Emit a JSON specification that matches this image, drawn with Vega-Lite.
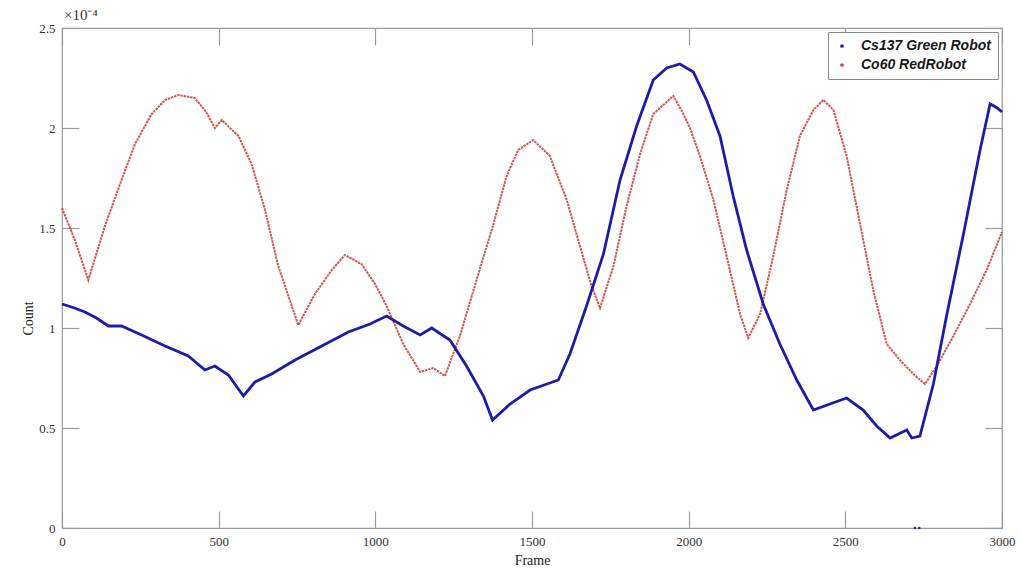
{
  "$schema": "https://vega.github.io/schema/vega-lite/v6.json",
  "width": 940,
  "height": 500,
  "autosize": {"type": "none"},
  "padding": {"left": 62, "top": 28, "right": 19, "bottom": 43},
  "background": "white",
  "config": {
    "view": {"stroke": "#9a9a9a", "strokeWidth": 1.2},
    "axis": {"grid": false, "domain": false, "labelFont": "Liberation Serif", "labelFontSize": 13, "labelColor": "#333", "titleFont": "Liberation Serif", "titleFontSize": 14, "titleFontWeight": "normal", "titleColor": "#222", "tickColor": "#9a9a9a", "tickWidth": 1.2}
  },
  "title": {"text": "×10⁻⁴", "anchor": "start", "frame": "group", "font": "Liberation Serif", "fontSize": 15, "fontWeight": "normal", "color": "#333", "offset": 2, "dx": 2, "dy": 3},
  "datasets": {
    "series": [
      {"frame": 0, "count": 1.12e-4, "source": "Cs137 Green Robot"},
      {"frame": 40, "count": 1.10e-4, "source": "Cs137 Green Robot"},
      {"frame": 73, "count": 1.08e-4, "source": "Cs137 Green Robot"},
      {"frame": 110, "count": 1.05e-4, "source": "Cs137 Green Robot"},
      {"frame": 148, "count": 1.01e-4, "source": "Cs137 Green Robot"},
      {"frame": 190, "count": 1.01e-4, "source": "Cs137 Green Robot"},
      {"frame": 254, "count": 0.965e-4, "source": "Cs137 Green Robot"},
      {"frame": 329, "count": 0.91e-4, "source": "Cs137 Green Robot"},
      {"frame": 403, "count": 0.86e-4, "source": "Cs137 Green Robot"},
      {"frame": 456, "count": 0.79e-4, "source": "Cs137 Green Robot"},
      {"frame": 488, "count": 0.81e-4, "source": "Cs137 Green Robot"},
      {"frame": 531, "count": 0.765e-4, "source": "Cs137 Green Robot"},
      {"frame": 579, "count": 0.66e-4, "source": "Cs137 Green Robot"},
      {"frame": 616, "count": 0.73e-4, "source": "Cs137 Green Robot"},
      {"frame": 669, "count": 0.77e-4, "source": "Cs137 Green Robot"},
      {"frame": 744, "count": 0.84e-4, "source": "Cs137 Green Robot"},
      {"frame": 829, "count": 0.91e-4, "source": "Cs137 Green Robot"},
      {"frame": 914, "count": 0.98e-4, "source": "Cs137 Green Robot"},
      {"frame": 983, "count": 1.02e-4, "source": "Cs137 Green Robot"},
      {"frame": 1036, "count": 1.06e-4, "source": "Cs137 Green Robot"},
      {"frame": 1089, "count": 1.01e-4, "source": "Cs137 Green Robot"},
      {"frame": 1143, "count": 0.965e-4, "source": "Cs137 Green Robot"},
      {"frame": 1180, "count": 1.0e-4, "source": "Cs137 Green Robot"},
      {"frame": 1238, "count": 0.94e-4, "source": "Cs137 Green Robot"},
      {"frame": 1291, "count": 0.81e-4, "source": "Cs137 Green Robot"},
      {"frame": 1345, "count": 0.66e-4, "source": "Cs137 Green Robot"},
      {"frame": 1374, "count": 0.54e-4, "source": "Cs137 Green Robot"},
      {"frame": 1430, "count": 0.62e-4, "source": "Cs137 Green Robot"},
      {"frame": 1494, "count": 0.69e-4, "source": "Cs137 Green Robot"},
      {"frame": 1584, "count": 0.74e-4, "source": "Cs137 Green Robot"},
      {"frame": 1621, "count": 0.87e-4, "source": "Cs137 Green Robot"},
      {"frame": 1674, "count": 1.11e-4, "source": "Cs137 Green Robot"},
      {"frame": 1728, "count": 1.37e-4, "source": "Cs137 Green Robot"},
      {"frame": 1781, "count": 1.74e-4, "source": "Cs137 Green Robot"},
      {"frame": 1834, "count": 2.01e-4, "source": "Cs137 Green Robot"},
      {"frame": 1887, "count": 2.24e-4, "source": "Cs137 Green Robot"},
      {"frame": 1930, "count": 2.30e-4, "source": "Cs137 Green Robot"},
      {"frame": 1972, "count": 2.32e-4, "source": "Cs137 Green Robot"},
      {"frame": 2015, "count": 2.28e-4, "source": "Cs137 Green Robot"},
      {"frame": 2057, "count": 2.14e-4, "source": "Cs137 Green Robot"},
      {"frame": 2100, "count": 1.96e-4, "source": "Cs137 Green Robot"},
      {"frame": 2142, "count": 1.66e-4, "source": "Cs137 Green Robot"},
      {"frame": 2185, "count": 1.39e-4, "source": "Cs137 Green Robot"},
      {"frame": 2238, "count": 1.12e-4, "source": "Cs137 Green Robot"},
      {"frame": 2291, "count": 0.92e-4, "source": "Cs137 Green Robot"},
      {"frame": 2345, "count": 0.74e-4, "source": "Cs137 Green Robot"},
      {"frame": 2398, "count": 0.59e-4, "source": "Cs137 Green Robot"},
      {"frame": 2451, "count": 0.62e-4, "source": "Cs137 Green Robot"},
      {"frame": 2504, "count": 0.65e-4, "source": "Cs137 Green Robot"},
      {"frame": 2557, "count": 0.59e-4, "source": "Cs137 Green Robot"},
      {"frame": 2600, "count": 0.51e-4, "source": "Cs137 Green Robot"},
      {"frame": 2643, "count": 0.45e-4, "source": "Cs137 Green Robot"},
      {"frame": 2696, "count": 0.49e-4, "source": "Cs137 Green Robot"},
      {"frame": 2712, "count": 0.45e-4, "source": "Cs137 Green Robot"},
      {"frame": 2738, "count": 0.46e-4, "source": "Cs137 Green Robot"},
      {"frame": 2781, "count": 0.72e-4, "source": "Cs137 Green Robot"},
      {"frame": 2823, "count": 1.06e-4, "source": "Cs137 Green Robot"},
      {"frame": 2877, "count": 1.47e-4, "source": "Cs137 Green Robot"},
      {"frame": 2930, "count": 1.89e-4, "source": "Cs137 Green Robot"},
      {"frame": 2962, "count": 2.12e-4, "source": "Cs137 Green Robot"},
      {"frame": 2985, "count": 2.10e-4, "source": "Cs137 Green Robot"},
      {"frame": 3000, "count": 2.08e-4, "source": "Cs137 Green Robot"},
      {"frame": 0, "count": 1.6e-4, "source": "Co60 RedRobot"},
      {"frame": 41, "count": 1.44e-4, "source": "Co60 RedRobot"},
      {"frame": 84, "count": 1.24e-4, "source": "Co60 RedRobot"},
      {"frame": 137, "count": 1.51e-4, "source": "Co60 RedRobot"},
      {"frame": 190, "count": 1.74e-4, "source": "Co60 RedRobot"},
      {"frame": 233, "count": 1.92e-4, "source": "Co60 RedRobot"},
      {"frame": 286, "count": 2.07e-4, "source": "Co60 RedRobot"},
      {"frame": 329, "count": 2.14e-4, "source": "Co60 RedRobot"},
      {"frame": 371, "count": 2.165e-4, "source": "Co60 RedRobot"},
      {"frame": 424, "count": 2.15e-4, "source": "Co60 RedRobot"},
      {"frame": 460, "count": 2.08e-4, "source": "Co60 RedRobot"},
      {"frame": 488, "count": 2.0e-4, "source": "Co60 RedRobot"},
      {"frame": 510, "count": 2.04e-4, "source": "Co60 RedRobot"},
      {"frame": 563, "count": 1.96e-4, "source": "Co60 RedRobot"},
      {"frame": 605, "count": 1.82e-4, "source": "Co60 RedRobot"},
      {"frame": 648, "count": 1.59e-4, "source": "Co60 RedRobot"},
      {"frame": 690, "count": 1.31e-4, "source": "Co60 RedRobot"},
      {"frame": 754, "count": 1.015e-4, "source": "Co60 RedRobot"},
      {"frame": 807, "count": 1.17e-4, "source": "Co60 RedRobot"},
      {"frame": 861, "count": 1.29e-4, "source": "Co60 RedRobot"},
      {"frame": 903, "count": 1.365e-4, "source": "Co60 RedRobot"},
      {"frame": 956, "count": 1.32e-4, "source": "Co60 RedRobot"},
      {"frame": 999, "count": 1.22e-4, "source": "Co60 RedRobot"},
      {"frame": 1036, "count": 1.11e-4, "source": "Co60 RedRobot"},
      {"frame": 1089, "count": 0.92e-4, "source": "Co60 RedRobot"},
      {"frame": 1143, "count": 0.78e-4, "source": "Co60 RedRobot"},
      {"frame": 1185, "count": 0.8e-4, "source": "Co60 RedRobot"},
      {"frame": 1222, "count": 0.76e-4, "source": "Co60 RedRobot"},
      {"frame": 1270, "count": 0.96e-4, "source": "Co60 RedRobot"},
      {"frame": 1323, "count": 1.24e-4, "source": "Co60 RedRobot"},
      {"frame": 1377, "count": 1.52e-4, "source": "Co60 RedRobot"},
      {"frame": 1419, "count": 1.76e-4, "source": "Co60 RedRobot"},
      {"frame": 1456, "count": 1.89e-4, "source": "Co60 RedRobot"},
      {"frame": 1504, "count": 1.94e-4, "source": "Co60 RedRobot"},
      {"frame": 1557, "count": 1.86e-4, "source": "Co60 RedRobot"},
      {"frame": 1611, "count": 1.64e-4, "source": "Co60 RedRobot"},
      {"frame": 1653, "count": 1.41e-4, "source": "Co60 RedRobot"},
      {"frame": 1690, "count": 1.21e-4, "source": "Co60 RedRobot"},
      {"frame": 1717, "count": 1.10e-4, "source": "Co60 RedRobot"},
      {"frame": 1760, "count": 1.31e-4, "source": "Co60 RedRobot"},
      {"frame": 1802, "count": 1.61e-4, "source": "Co60 RedRobot"},
      {"frame": 1845, "count": 1.87e-4, "source": "Co60 RedRobot"},
      {"frame": 1887, "count": 2.07e-4, "source": "Co60 RedRobot"},
      {"frame": 1951, "count": 2.16e-4, "source": "Co60 RedRobot"},
      {"frame": 1980, "count": 2.08e-4, "source": "Co60 RedRobot"},
      {"frame": 2004, "count": 2.0e-4, "source": "Co60 RedRobot"},
      {"frame": 2036, "count": 1.86e-4, "source": "Co60 RedRobot"},
      {"frame": 2079, "count": 1.64e-4, "source": "Co60 RedRobot"},
      {"frame": 2121, "count": 1.36e-4, "source": "Co60 RedRobot"},
      {"frame": 2164, "count": 1.07e-4, "source": "Co60 RedRobot"},
      {"frame": 2190, "count": 0.95e-4, "source": "Co60 RedRobot"},
      {"frame": 2228, "count": 1.07e-4, "source": "Co60 RedRobot"},
      {"frame": 2270, "count": 1.36e-4, "source": "Co60 RedRobot"},
      {"frame": 2313, "count": 1.69e-4, "source": "Co60 RedRobot"},
      {"frame": 2355, "count": 1.96e-4, "source": "Co60 RedRobot"},
      {"frame": 2398, "count": 2.09e-4, "source": "Co60 RedRobot"},
      {"frame": 2430, "count": 2.14e-4, "source": "Co60 RedRobot"},
      {"frame": 2462, "count": 2.09e-4, "source": "Co60 RedRobot"},
      {"frame": 2504, "count": 1.86e-4, "source": "Co60 RedRobot"},
      {"frame": 2547, "count": 1.52e-4, "source": "Co60 RedRobot"},
      {"frame": 2589, "count": 1.19e-4, "source": "Co60 RedRobot"},
      {"frame": 2632, "count": 0.92e-4, "source": "Co60 RedRobot"},
      {"frame": 2674, "count": 0.84e-4, "source": "Co60 RedRobot"},
      {"frame": 2717, "count": 0.77e-4, "source": "Co60 RedRobot"},
      {"frame": 2754, "count": 0.72e-4, "source": "Co60 RedRobot"},
      {"frame": 2792, "count": 0.81e-4, "source": "Co60 RedRobot"},
      {"frame": 2845, "count": 0.96e-4, "source": "Co60 RedRobot"},
      {"frame": 2898, "count": 1.12e-4, "source": "Co60 RedRobot"},
      {"frame": 2951, "count": 1.29e-4, "source": "Co60 RedRobot"},
      {"frame": 3000, "count": 1.48e-4, "source": "Co60 RedRobot"}
    ],
    "outliers": [
      {"frame": 2722, "count": 0, "source": "Cs137 Green Robot"},
      {"frame": 2736, "count": 0, "source": "Cs137 Green Robot"}
    ]
  },
  "layer": [
    {
      "data": {"name": "series"},
      "transform": [{"filter": "datum.source === 'Co60 RedRobot'"}],
      "mark": {"type": "line", "strokeWidth": 2, "strokeDash": [2.5, 0.8], "opacity": 0.9},
      "encoding": {
        "x": {"field": "frame", "type": "quantitative", "scale": {"domain": [0, 3000], "nice": false, "zero": false}, "axis": {"orient": "bottom", "title": "Frame", "values": [0, 500, 1000, 1500, 2000, 2500, 3000], "format": "d", "tickSize": -17, "labelPadding": 24, "titleY": 25, "titleBaseline": "top", "labelFlush": false}},
        "y": {"field": "count", "type": "quantitative", "scale": {"domain": [0, 0.00025], "nice": false}, "axis": {"orient": "left", "title": "Count", "values": [0, 0.00005, 0.0001, 0.00015, 0.0002, 0.00025], "labelExpr": "format(datum.value * 10000, '~g')", "tickSize": -17, "labelPadding": 24, "titleX": -27, "titleY": 290, "titleBaseline": "bottom", "titleAngle": -90, "titleAlign": "center", "labelFlush": false}},
        "color": {"field": "source", "type": "nominal", "scale": {"domain": ["Cs137 Green Robot", "Co60 RedRobot"], "range": ["#1c1ca6", "#c9453d"]}, "legend": {"title": null, "orient": "top-right", "offset": 4, "symbolType": "circle", "symbolSize": 5, "symbolOpacity": 0.8, "labelFont": "Liberation Sans", "labelFontSize": 14, "labelFontStyle": "italic", "labelFontWeight": "bold", "labelColor": "#1a1a1a", "labelOffset": 12, "fillColor": "white", "strokeColor": "#8a8a8a", "padding": 7, "rowPadding": 5}}
      }
    },
    {
      "data": {"name": "series"},
      "transform": [{"filter": "datum.source === 'Cs137 Green Robot'"}],
      "mark": {"type": "line", "strokeWidth": 2.8},
      "encoding": {
        "x": {"field": "frame", "type": "quantitative", "axis": null},
        "y": {"field": "count", "type": "quantitative", "axis": null},
        "color": {"field": "source", "type": "nominal"}
      }
    },
    {
      "data": {"name": "outliers"},
      "mark": {"type": "point", "filled": true, "size": 6, "opacity": 1},
      "encoding": {
        "x": {"field": "frame", "type": "quantitative", "axis": {"orient": "top", "labels": false, "title": null, "values": [0, 500, 1000, 1500, 2000, 2500, 3000], "tickSize": -17}},
        "y": {"field": "count", "type": "quantitative", "axis": {"orient": "right", "labels": false, "title": null, "values": [0, 0.00005, 0.0001, 0.00015, 0.0002, 0.00025], "tickSize": -17}},
        "color": {"field": "source", "type": "nominal"}
      }
    }
  ],
  "resolve": {"axis": {"x": "independent", "y": "independent"}}
}
